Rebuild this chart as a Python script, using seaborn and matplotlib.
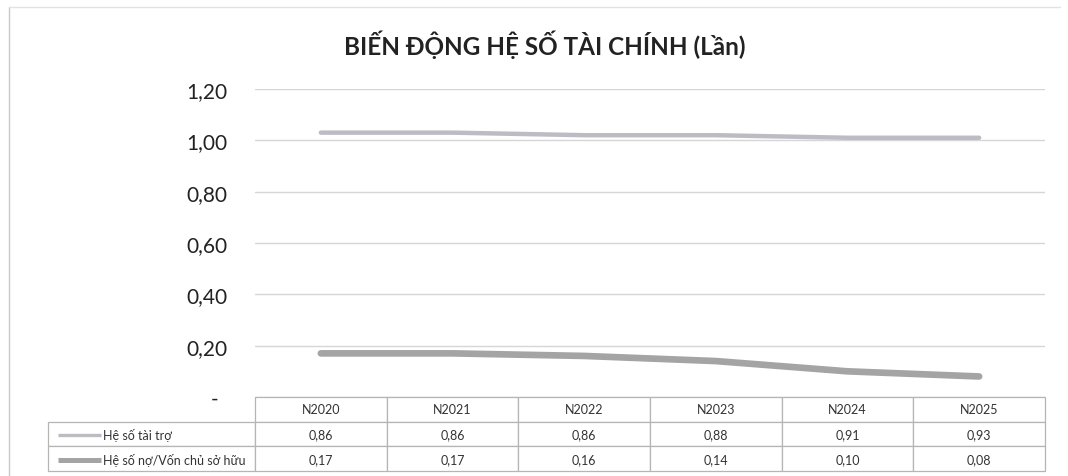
import pandas as pd
import numpy as np
import matplotlib
matplotlib.use("Agg")
import matplotlib.pyplot as plt
import matplotlib.transforms as mtrans
import seaborn as sns

years = ["N2020", "N2021", "N2022", "N2023", "N2024", "N2025"]
tai_tro = [0.86, 0.86, 0.86, 0.88, 0.91, 0.93]
no_von = [0.17, 0.17, 0.16, 0.14, 0.10, 0.08]
series_names = ["Hệ số tài trợ", "Hệ số nợ/Vốn chủ sở hữu"]
title = "BIẾN ĐỘNG HỆ SỐ TÀI CHÍNH (Lần)"
yticks = [0, 0.2, 0.4, 0.6, 0.8, 1.0, 1.2]

sns.set_style("white")
plt.rcParams["font.family"] = ["Lato", "DejaVu Sans"]

# stacked line chart (Excel style): upper line = sum of both series
df = pd.DataFrame({"year": years, "tai_tro": tai_tro, "no_von": no_von})
df["x"] = range(len(years))
df["tai_tro_stack"] = df["no_von"] + df["tai_tro"]

colors = ["#bcbcc4", "#a4a4a4"]
widths = [3.2, 4.8]

fig = plt.figure(figsize=(10.68, 4.77), dpi=100)
ax = fig.add_axes([255 / 1068, 79 / 477, 790 / 1068, 308 / 477])

sns.lineplot(data=df, x="x", y="tai_tro_stack", ax=ax, color=colors[0], lw=widths[0])
sns.lineplot(data=df, x="x", y="no_von", ax=ax, color=colors[1], lw=widths[1])

ax.set_xlim(-0.5, len(years) - 0.5)
ax.set_ylim(0, 1.2)
ax.set_yticks(yticks)
ax.set_yticklabels(["-" if v == 0 else f"{v:.2f}".replace(".", ",") for v in yticks],
                   fontsize=15, color="#222222")
ax.tick_params(axis="y", length=0, pad=20)
# the zero label "-" sits a bit more to the left, like Excel's accounting format
zero_lab = ax.get_yticklabels()[0]
zero_lab.set_transform(zero_lab.get_transform() +
                       mtrans.ScaledTranslation(-0.09, 0, fig.dpi_scale_trans))
ax.set_xticks([])
ax.set_xlabel("")
ax.set_ylabel("")
ax.grid(axis="y", color="#d6d6d6", lw=1)
for s in ax.spines.values():
    s.set_visible(False)

fig.text(545 / 1068, 1 - 45 / 477, title, ha="center", va="center",
         fontsize=17.5, fontweight="bold", color="#222222")

# data table under the plot (first column holds the legend)
lab_w = 207 / 790
col_w = 1 / len(years)
cell_text = [[""] + [f"{v:.2f}".replace(".", ",") for v in vals] for vals in [tai_tro, no_von]]
tbl = ax.table(cellText=cell_text, colLabels=[""] + years, cellLoc="center",
               colWidths=[lab_w] + [col_w] * len(years),
               bbox=[-lab_w, -74 / 308, 1 + lab_w, 74 / 308])
tbl.auto_set_font_size(False)
tbl.set_fontsize(9)
for (r, c), cell in tbl.get_celld().items():
    cell.set_edgecolor("#b5b5b5")
    cell.set_linewidth(0.9)
    cell.get_text().set_color("#333333")
    if r == 0 and c == 0:
        cell.set_visible(False)

# legend keys and names inside the first column
for i in range(2):
    yk = -(25 + 25 * i + 12.5) / 308
    ax.plot([(58 - 255) / 790, (101 - 255) / 790], [yk, yk], transform=ax.transAxes,
            color=colors[i], lw=widths[i] * 0.75, clip_on=False, solid_capstyle="butt")
    ax.text((103 - 255) / 790, yk, series_names[i], transform=ax.transAxes,
            ha="left", va="center", fontsize=9, color="#333333")

# faint chart-area border (left and top), as in the scanned original
fig.add_artist(plt.Line2D([9 / 1068, 9 / 1068], [0, 1 - 8 / 477], transform=fig.transFigure,
                          color="#c8c8c8", lw=1))
fig.add_artist(plt.Line2D([9 / 1068, 1060 / 1068], [1 - 8 / 477, 1 - 8 / 477],
                          transform=fig.transFigure, color="#e2e2e2", lw=1))

fig.savefig("out.png", dpi=100, facecolor="white")
